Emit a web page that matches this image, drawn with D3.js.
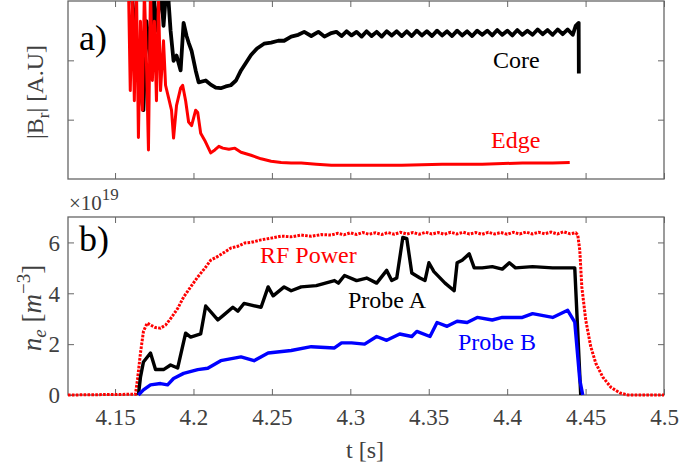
<!DOCTYPE html>
<html><head><meta charset="utf-8">
<script src="https://cdn.jsdelivr.net/npm/d3@7"></script>
<style>
body{margin:0;background:#fff;}
</style></head>
<body><svg id="chart" width="679" height="467"></svg>
<script>
// ---------- data ----------
const xTicks = [4.15, 4.2, 4.25, 4.3, 4.35, 4.4, 4.45, 4.5];
const xTickLabels = ["4.15","4.2","4.25","4.3","4.35","4.4","4.45","4.5"];
const topYTicks = [1, 2];
const botYTicks = [0, 2, 4, 6];
const botYTickLabels = ["0","2","4","6"];

// panel a) |B_r| core (arbitrary units)
const core = [
 [4.1597,3.33],[4.1636,2.33],[4.1662,1.49],[4.1681,1.16],[4.1700,2.66],[4.1726,2.00],[4.1745,3.17],
 [4.1764,2.50],[4.1777,2.83],[4.1790,3.33],[4.1809,2.58],[4.1828,3.25],[4.1841,3.00],[4.1854,2.50],
 [4.1873,1.99],[4.1892,2.08],[4.1918,1.83],[4.1937,2.63],[4.1956,2.41],[4.1969,2.30],[4.1988,2.16],
 [4.2014,1.83],[4.2033,1.63],[4.2078,1.66],[4.2110,1.59],[4.2142,1.54],[4.2174,1.53],[4.2206,1.56],
 [4.2238,1.58],[4.2271,1.66],[4.2303,1.83],[4.2335,1.96],[4.2367,2.09],[4.2405,2.20],[4.2450,2.28],
 [4.2495,2.30],[4.2540,2.33],[4.2578,2.33],[4.2623,2.40],[4.2668,2.43],[4.2706,2.48],[4.2751,2.41],
 [4.2796,2.48],[4.2835,2.40],[4.2879,2.46],[4.2911,2.48],[4.2944,2.41],[4.2976,2.49],[4.3008,2.42],
 [4.3040,2.48],[4.3072,2.40],[4.3104,2.49],[4.3136,2.41],[4.3168,2.48],[4.3200,2.40],[4.3232,2.49],
 [4.3264,2.42],[4.3296,2.49],[4.3328,2.41],[4.3360,2.49],[4.3392,2.41],[4.3424,2.50],[4.3456,2.42],
 [4.3488,2.49],[4.3521,2.41],[4.3553,2.50],[4.3585,2.42],[4.3617,2.49],[4.3649,2.41],[4.3681,2.50],
 [4.3713,2.42],[4.3745,2.49],[4.3777,2.41],[4.3809,2.50],[4.3841,2.43],[4.3873,2.50],[4.3905,2.42],
 [4.3937,2.51],[4.3969,2.43],[4.4001,2.50],[4.4033,2.42],[4.4065,2.51],[4.4097,2.43],[4.4129,2.50],
 [4.4162,2.43],[4.4194,2.52],[4.4226,2.44],[4.4258,2.51],[4.4290,2.43],[4.4322,2.52],[4.4354,2.44],
 [4.4386,2.52],[4.4418,2.43],[4.4437,2.58],[4.4456,2.63],[4.4457,1.78]
];
// panel a) |B_r| edge
const edge = [
 [4.1585,3.34],[4.1597,1.49],[4.1610,3.00],[4.1623,1.32],[4.1636,3.34],[4.1649,0.70],[4.1662,2.66],
 [4.1674,1.16],[4.1687,3.17],[4.1700,1.99],[4.1713,0.49],[4.1726,3.25],[4.1738,1.66],[4.1751,2.66],
 [4.1764,1.32],[4.1777,3.08],[4.1790,1.49],[4.1809,2.33],[4.1822,1.58],[4.1841,1.37],[4.1860,1.16],
 [4.1873,0.69],[4.1892,1.24],[4.1918,1.53],[4.1931,1.58],[4.1950,1.32],[4.1969,0.96],[4.1988,0.90],
 [4.2014,1.16],[4.2027,1.12],[4.2046,0.77],[4.2072,0.65],[4.2110,0.44],[4.2136,0.49],[4.2162,0.55],
 [4.2187,0.52],[4.2226,0.50],[4.2264,0.52],[4.2303,0.45],[4.2367,0.40],[4.2431,0.34],[4.2495,0.30],
 [4.2559,0.28],[4.2623,0.27],[4.2687,0.27],[4.2783,0.25],[4.2879,0.23],[4.3072,0.23],[4.3328,0.23],
 [4.3585,0.25],[4.3841,0.25],[4.4097,0.27],[4.4290,0.27],[4.4399,0.28]
];
// panel b) n_e (x 10^19 m^-3)
const rfPower = [
 [4.1200,0.00],[4.1630,0.03],[4.1643,0.60],[4.1662,1.65],[4.1681,2.50],[4.1705,2.83],[4.1726,2.75],
 [4.1758,2.65],[4.1790,2.63],[4.1822,2.75],[4.1854,3.00],[4.1899,3.40],[4.1937,3.85],[4.1982,4.25],
 [4.2027,4.64],[4.2072,4.98],[4.2110,5.30],[4.2155,5.45],[4.2194,5.60],[4.2238,5.78],[4.2283,5.85],
 [4.2328,5.98],[4.2367,6.00],[4.2431,6.10],[4.2495,6.17],[4.2559,6.25],[4.2623,6.22],[4.2687,6.29],
 [4.2751,6.24],[4.2815,6.31],[4.2879,6.29],[4.2920,6.36],[4.2960,6.30],[4.3000,6.38],[4.3040,6.31],
 [4.3080,6.39],[4.3120,6.32],[4.3160,6.38],[4.3200,6.31],[4.3240,6.39],[4.3280,6.32],[4.3320,6.40],
 [4.3360,6.33],[4.3400,6.39],[4.3440,6.32],[4.3480,6.40],[4.3520,6.33],[4.3560,6.39],[4.3600,6.32],
 [4.3640,6.40],[4.3680,6.33],[4.3720,6.40],[4.3760,6.33],[4.3800,6.39],[4.3840,6.32],[4.3880,6.40],
 [4.3920,6.33],[4.3960,6.39],[4.4000,6.32],[4.4040,6.40],[4.4080,6.33],[4.4120,6.41],[4.4160,6.33],
 [4.4200,6.40],[4.4240,6.34],[4.4280,6.41],[4.4320,6.33],[4.4360,6.42],[4.4400,6.34],[4.4437,6.38],
 [4.4450,6.30],[4.4463,5.70],[4.4476,4.25],[4.4501,2.95],[4.4533,1.90],[4.4565,1.25],[4.4610,0.70],
 [4.4662,0.30],[4.4719,0.08],[4.4771,0.00],[4.5000,0.00]
];
const probeA = [
 [4.1649,0.00],[4.1662,0.70],[4.1681,1.30],[4.1726,1.65],[4.1758,1.00],[4.1809,1.00],[4.1854,1.18],
 [4.1899,1.06],[4.1950,2.43],[4.1982,2.28],[4.2046,2.40],[4.2078,3.50],[4.2155,2.95],[4.2194,3.15],
 [4.2251,3.45],[4.2283,3.30],[4.2322,3.60],[4.2431,3.45],[4.2476,4.25],[4.2508,3.90],[4.2578,4.25],
 [4.2623,4.10],[4.2687,4.25],[4.2783,4.30],[4.2899,4.50],[4.2924,4.40],[4.2963,4.70],[4.3040,4.50],
 [4.3104,4.60],[4.3168,4.40],[4.3232,4.90],[4.3264,4.50],[4.3296,4.60],[4.3335,6.20],[4.3360,6.15],
 [4.3392,4.80],[4.3444,4.60],[4.3476,4.50],[4.3501,5.20],[4.3533,4.85],[4.3604,4.40],[4.3662,4.10],
 [4.3681,5.20],[4.3713,5.30],[4.3758,5.55],[4.3790,5.00],[4.3841,5.00],[4.3905,5.05],[4.3969,4.95],
 [4.4014,5.20],[4.4053,5.00],[4.4162,5.05],[4.4290,5.00],[4.4431,5.00],[4.4469,0.00]
];
const probeB = [
 [4.1649,0.00],[4.1681,0.20],[4.1726,0.40],[4.1790,0.45],[4.1835,0.40],[4.1873,0.65],[4.1937,0.85],
 [4.2027,1.00],[4.2091,1.05],[4.2174,1.35],[4.2303,1.50],[4.2386,1.35],[4.2476,1.65],[4.2623,1.75],
 [4.2751,1.90],[4.2899,1.85],[4.2944,2.05],[4.3008,2.05],[4.3091,2.00],[4.3168,2.30],[4.3232,2.15],
 [4.3315,2.40],[4.3392,2.30],[4.3424,2.50],[4.3508,2.30],[4.3553,2.85],[4.3617,2.70],[4.3681,2.90],
 [4.3745,2.85],[4.3809,3.05],[4.3905,2.95],[4.3969,3.05],[4.4097,3.05],[4.4162,3.20],[4.4290,3.05],
 [4.4386,3.33],[4.4431,2.87],[4.4463,0.60],[4.4482,0.00]
];

// ---------- layout ----------
const FONT = '"Liberation Serif", "Times New Roman", Times, "DejaVu Serif", serif';
const svg = d3.select("#chart").attr("font-family", FONT);
const L = 68, R = 664;
const topA = 1, botA = 179, topB = 217, botB = 395;
const axisCol = "#666", textCol = "#404040";

const x = d3.scaleLinear().domain([4.12, 4.5]).range([L, R]);
const yA = d3.scaleLinear().domain([0, 3]).range([botA, topA]);
const yB = d3.scaleLinear().domain([0, 7]).range([botB, topB]);

svg.append("defs").call(d => {
  d.append("clipPath").attr("id","clipA").append("rect")
   .attr("x",L).attr("y",topA).attr("width",R-L).attr("height",botA-topA);
  d.append("clipPath").attr("id","clipB").append("rect")
   .attr("x",L).attr("y",topB-2).attr("width",R-L).attr("height",botB-topB+4);
});

function frame(y0, y1, yScale, yTicks, yLabels, xLabels){
  const g = svg.append("g");
  const tl = 6;
  const axB = d3.axisBottom(x).tickValues(xTicks).tickSizeInner(-tl).tickSizeOuter(0)
    .tickFormat((d,i)=> xLabels ? xTickLabels[i] : "");
  const axT = d3.axisTop(x).tickValues(xTicks).tickSizeInner(-tl).tickSizeOuter(0).tickFormat("");
  const axL = d3.axisLeft(yScale).tickValues(yTicks).tickSizeInner(-tl).tickSizeOuter(0)
    .tickFormat((d,i)=> yLabels ? yLabels[i] : "");
  const axR = d3.axisRight(yScale).tickValues(yTicks).tickSizeInner(-tl).tickSizeOuter(0).tickFormat("");
  const gb = g.append("g").attr("transform",`translate(0,${y1})`).call(axB);
  g.append("g").attr("transform",`translate(0,${y0})`).call(axT);
  const gl = g.append("g").attr("transform",`translate(${L},0)`).call(axL);
  g.append("g").attr("transform",`translate(${R},0)`).call(axR);
  g.selectAll(".domain").remove();
  g.selectAll("g").attr("font-family", FONT);
  g.selectAll(".tick line").attr("stroke",axisCol).attr("stroke-width",1);
  g.selectAll(".tick text").attr("fill",textCol).attr("font-size",23);
  gb.selectAll(".tick text").attr("dy","0").attr("y",30);
  gl.selectAll(".tick text").attr("x",-8).attr("dy","0.34em");
  g.append("rect").attr("x",L).attr("y",y0).attr("width",R-L).attr("height",y1-y0)
    .attr("fill","none").attr("stroke",axisCol).attr("stroke-width",1.3);
  return g;
}

frame(topA, botA, yA, topYTicks, null, false);
frame(topB, botB, yB, botYTicks, botYTickLabels, true);

const lineA = d3.line().x(d=>x(d[0])).y(d=>yA(d[1]));
const lineB = d3.line().x(d=>x(d[0])).y(d=>yB(d[1]));

const pA = svg.append("g").attr("clip-path","url(#clipA)");
pA.append("path").datum(core).attr("d",lineA).attr("fill","none")
  .attr("stroke","#000").attr("stroke-width",3.8).attr("stroke-linejoin","round");
pA.append("path").datum(edge).attr("d",lineA).attr("fill","none")
  .attr("stroke","#ff0000").attr("stroke-width",3.0).attr("stroke-linejoin","round");

const pB = svg.append("g").attr("clip-path","url(#clipB)");
pB.append("path").datum(rfPower).attr("d",lineB).attr("fill","none")
  .attr("stroke","#ff0000").attr("stroke-width",3).attr("stroke-dasharray","2.6,1.3");
pB.append("path").datum(probeA).attr("d",lineB).attr("fill","none")
  .attr("stroke","#000").attr("stroke-width",3.4).attr("stroke-linejoin","round");
pB.append("path").datum(probeB).attr("d",lineB).attr("fill","none")
  .attr("stroke","#0000ff").attr("stroke-width",3.4).attr("stroke-linejoin","round");

// ---------- annotations ----------
const txt = (xx,yy,s,col,size,anchor) => svg.append("text").attr("x",xx).attr("y",yy)
  .attr("fill",col).attr("font-size",size).attr("font-family",FONT)
  .attr("text-anchor",anchor||"start").text(s);
txt(79,50,"a)","#000",36);
txt(79,251,"b)","#000",36);
txt(493,68,"Core","#000",24);
txt(491,148,"Edge","#ff0000",24);
txt(260,263,"RF Power","#ff0000",24);
txt(348,308,"Probe A","#000",24);
txt(458,350,"Probe B","#0000ff",24);

// multiplier
const mult = svg.append("text").attr("x",69).attr("y",210).attr("fill",textCol)
  .attr("font-family",FONT).attr("font-size",21);
mult.append("tspan").text("×10");
mult.append("tspan").attr("dy",-10).attr("font-size",17).text("19");

// x label
txt(365,458,"t [s]",textCol,24,"middle");

// y label a
const yla = svg.append("text").attr("transform","translate(43,92) rotate(-90)")
  .attr("text-anchor","middle").attr("fill",textCol).attr("font-family",FONT).attr("font-size",24);
yla.append("tspan").text("|B");
yla.append("tspan").attr("dy",6).attr("font-size",17).text("r");
yla.append("tspan").attr("dy",-6).text("| [A.U]");

// y label b
const ylb = svg.append("text").attr("transform","translate(41,308) rotate(-90)")
  .attr("text-anchor","middle").attr("fill",textCol).attr("font-family",FONT).attr("font-size",27);
ylb.append("tspan").attr("font-style","italic").text("n");
ylb.append("tspan").attr("dy",5).attr("font-style","italic").attr("font-size",19).text("e");
ylb.append("tspan").attr("dy",-5).text(" [");
ylb.append("tspan").attr("font-style","italic").text("m");
ylb.append("tspan").attr("dy",-11).attr("font-size",19).text("−3");
ylb.append("tspan").attr("dy",11).text("]");
</script></body></html>
